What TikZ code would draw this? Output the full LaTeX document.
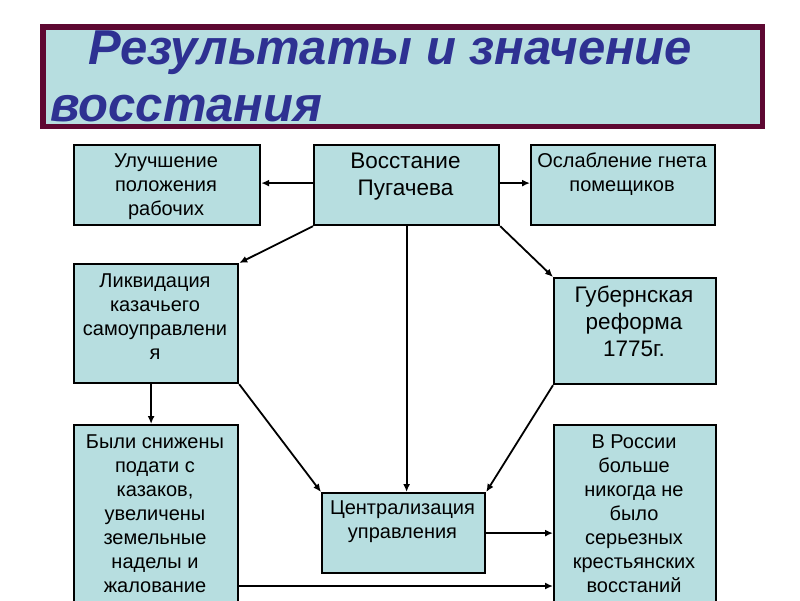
\documentclass[tikz,border=0pt]{standalone}
\usepackage{fontspec}
\setmainfont{Liberation Sans}
\usetikzlibrary{arrows.meta}
\definecolor{boxfill}{RGB}{183,222,224}
\definecolor{framecol}{RGB}{94,8,50}
\definecolor{titleblue}{RGB}{46,49,146}
\begin{document}
\begin{tikzpicture}[x=1pt,y=-1pt,
  box/.style={draw=black, line width=2.2pt, fill=boxfill, inner sep=0pt, anchor=north west},
  txt/.style={align=center, font=\fontsize{20}{24}\selectfont, inner sep=0pt, anchor=north},
  bigtxt/.style={align=center, font=\fontsize{22.5}{27}\selectfont, inner sep=0pt, anchor=north},
  ttl/.style={anchor=base west, text=titleblue, inner sep=0pt, font=\bfseries\itshape\fontsize{49}{57}\selectfont},
  arr/.style={line width=1.8pt, -{Latex[length=8pt,width=7pt]}}]
\useasboundingbox (0,0) rectangle (800,600);
\fill[white] (0,0) rectangle (800,600);
% title
\node[draw=framecol, line width=5.5pt, fill=boxfill, inner sep=0pt, anchor=north west,
  minimum width=719.5pt, minimum height=99.5pt] (title) at (40,24) {};
\node[ttl] (t1) at (88,64) {Результаты и значение};
\node[ttl] (t2) at (50,121) {восстания};
% boxes
\node[box, minimum width=186pt, minimum height=80pt] (ul) at (73,144) {};
\node[box, minimum width=185pt, minimum height=80pt] (vos) at (313,144) {};
\node[box, minimum width=184pt, minimum height=80pt] (osl) at (530,144) {};
\node[box, minimum width=164pt, minimum height=119pt] (lik) at (73,263) {};
\node[box, minimum width=162pt, minimum height=106pt] (gub) at (553,277) {};
\node[box, minimum width=164pt, minimum height=220pt] (byl) at (73,424) {};
\node[box, minimum width=162pt, minimum height=220pt] (ros) at (553,424) {};
\node[box, minimum width=163pt, minimum height=80pt] (cen) at (321,492) {};
% texts
\node[txt] (ultx) at (166,151) {\rule{0pt}{16pt}Улучшение\\положения\\рабочих};
\node[bigtxt] (vostx) at (405.5,151) {\rule{0pt}{17pt}Восстание\\Пугачева};
\node[txt] (osltx) at (622,151) {\rule{0pt}{16pt}Ослабление гнета\\помещиков};
\node[txt] (liktx) at (155,271) {\rule{0pt}{16pt}Ликвидация\\казачьего\\самоуправлени\\я};
\node[bigtxt] (gubtx) at (634,285) {\rule{0pt}{17pt}Губернская\\реформа\\1775г.};
\node[txt] (byltx) at (155,432) {\rule{0pt}{16pt}Были снижены\\подати с\\казаков,\\увеличены\\земельные\\наделы и\\жалование};
\node[txt] (rostx) at (634,432) {\rule{0pt}{16pt}В России\\больше\\никогда не\\было\\серьезных\\крестьянских\\восстаний};
\node[txt] (centx) at (402.5,498) {\rule{0pt}{16pt}Централизация\\управления};
% connectors
\draw[arr] ([yshift=2pt]vos.west) -- ([yshift=2pt]vos.west -| ul.east);
\draw[arr] ([yshift=2pt]vos.east) -- ([yshift=2pt]vos.east -| osl.west);
\draw[arr] (vos.south west) -- (lik.north east);
\draw[arr] (vos.south east) -- (gub.north west);
\draw[arr] (vos.south) -- (vos.south |- cen.north);
\draw[arr] (lik.south east) -- (cen.north west);
\draw[arr] (gub.south west) -- (cen.north east);
\draw[arr] ([xshift=-5pt]lik.south) -- ([xshift=-5pt]lik.south |- byl.north);
\draw[arr] (cen.east) -- (cen.east -| ros.west);
\draw[arr] (byl.east |- 0,586) -- (ros.west |- 0,586);
\end{tikzpicture}
\end{document}
